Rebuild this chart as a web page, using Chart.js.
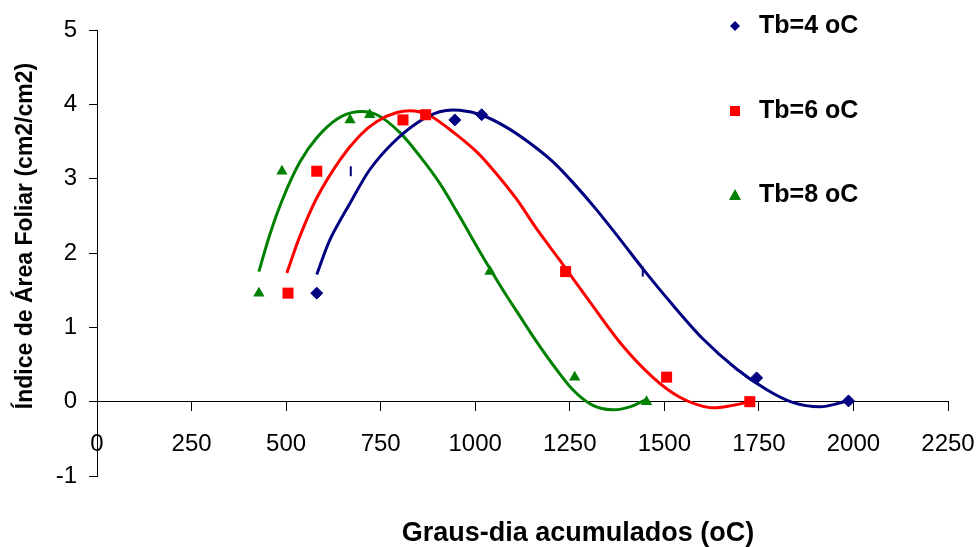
<!DOCTYPE html>
<html>
<head>
<meta charset="utf-8">
<script src="https://cdn.jsdelivr.net/npm/chart.js@4/dist/chart.umd.min.js"></script>
<style>
  html, body { margin: 0; padding: 0; background: #fff; }
  #wrap { width: 980px; height: 547px; position: relative; }
</style>
</head>
<body>
<div id="wrap"><canvas id="c" width="980" height="547"></canvas></div>
<script>
// ---- Data ----
const seriesLabels = ['Tb=4 oC', 'Tb=6 oC', 'Tb=8 oC'];

// observed points
const tb4X = [581, 671, 946, 1017, 1443, 1744, 1987];
const tb4Y = [1.46, 3.10, 3.79, 3.86, 1.75, 0.32, 0.01];
const tb6X = [505, 581, 809, 869, 1239, 1506, 1726];
const tb6Y = [1.46, 3.10, 3.79, 3.86, 1.75, 0.33, 0.00];
const tb8X = [428, 489, 669, 721, 1039, 1263, 1453];
const tb8Y = [1.46, 3.10, 3.79, 3.86, 1.75, 0.33, 0.00];

// fitted curves
const fit4X = [581, 616, 669, 721, 782, 846, 906, 959, 1020, 1083, 1144, 1205, 1258, 1321, 1382, 1443, 1514, 1601, 1691, 1771, 1839, 1911, 1963, 1990];
const fit4Y = [1.71, 2.18, 2.67, 3.12, 3.48, 3.75, 3.90, 3.92, 3.85, 3.69, 3.48, 3.23, 2.95, 2.58, 2.19, 1.79, 1.35, 0.85, 0.44, 0.16, -0.01, -0.07, -0.02, 0.03];
const fit6X = [502, 536, 581, 642, 695, 740, 793, 840, 880, 941, 1004, 1057, 1110, 1163, 1224, 1295, 1382, 1469, 1541, 1620, 1681, 1726];
const fit6Y = [1.73, 2.22, 2.74, 3.25, 3.58, 3.77, 3.89, 3.91, 3.85, 3.63, 3.36, 3.06, 2.72, 2.32, 1.90, 1.40, 0.80, 0.33, 0.06, -0.08, -0.05, 0.00];
const fit8X = [428, 457, 492, 536, 581, 634, 687, 740, 801, 854, 906, 959, 1020, 1070, 1118, 1163, 1205, 1258, 1311, 1364, 1409, 1453];
const fit8Y = [1.75, 2.25, 2.74, 3.22, 3.55, 3.80, 3.90, 3.86, 3.62, 3.30, 2.94, 2.49, 1.95, 1.53, 1.15, 0.80, 0.50, 0.16, -0.05, -0.11, -0.07, 0.03];

// axis ticks
const xTicks = [0, 250, 500, 750, 1000, 1250, 1500, 1750, 2000, 2250];
const yTicks = [-1, 0, 1, 2, 3, 4, 5];

const xTitle = 'Graus-dia acumulados (oC)';
const yTitle = 'Índice de Área Foliar (cm2/cm2)';

// ---- styles ----
const colors = ['#000080', '#FF0000', '#008000'];
const FONT = '"Liberation Sans", Arial, Helvetica, sans-serif';

const pts = (xs, ys) => xs.map((x, i) => ({x: x, y: ys[i]}));

const curveDs = (xs, ys, c) => ({
  type: 'line', data: pts(xs, ys), borderColor: c, borderWidth: 3,
  pointRadius: 0, tension: 0.3, fill: false, order: 2
});

const datasets = [
  curveDs(fit4X, fit4Y, colors[0]),
  curveDs(fit6X, fit6Y, colors[1]),
  curveDs(fit8X, fit8Y, colors[2]),
  {
    type: 'scatter', label: seriesLabels[0], data: pts(tb4X, tb4Y),
    pointStyle: ['rectRot', 'line', 'rectRot', 'rectRot', 'line', 'rectRot', 'rectRot'],
    rotation: [0, 90, 0, 0, 90, 0, 0],
    pointRadius: [6, 5, 6, 6, 5, 6, 6],
    pointBorderWidth: [1, 2, 1, 1, 2, 1, 1],
    backgroundColor: colors[0], borderColor: colors[0], order: 1
  },
  {
    type: 'scatter', label: seriesLabels[1], data: pts(tb6X, tb6Y),
    pointStyle: 'rect', pointRadius: 7.8, pointBorderWidth: 0,
    backgroundColor: colors[1], borderColor: colors[1], order: 1
  },
  {
    type: 'scatter', label: seriesLabels[2], data: pts(tb8X, tb8Y),
    pointStyle: 'triangle', pointRadius: 6.5, pointBorderWidth: 0,
    backgroundColor: colors[2], borderColor: colors[2], order: 1
  }
];

const legendMarkers = ['diamond', 'square', 'triangle'];

const annotPlugin = {
  id: 'annot',
  afterDraw(chart) {
    const ctx = chart.ctx;
    ctx.save();
    ctx.fillStyle = '#000';
    // x title
    ctx.font = 'bold 27px ' + FONT;
    ctx.textAlign = 'center';
    ctx.textBaseline = 'middle';
    ctx.fillText(xTitle, 578, 534);
    // y title
    ctx.save();
    ctx.translate(26, 236);
    ctx.rotate(-Math.PI / 2);
    ctx.font = 'bold 23px ' + FONT;
    ctx.fillText(yTitle, 0, 0);
    ctx.restore();
    // legend
    const ys = [26, 111, 195];
    seriesLabels.forEach((lab, i) => {
      const mx = 735, my = ys[i];
      ctx.fillStyle = colors[i];
      ctx.beginPath();
      if (legendMarkers[i] === 'diamond') {
        ctx.moveTo(mx - 5, my); ctx.lineTo(mx, my - 5); ctx.lineTo(mx + 5, my); ctx.lineTo(mx, my + 5);
      } else if (legendMarkers[i] === 'square') {
        ctx.rect(mx - 5, my - 5, 10, 10);
      } else {
        ctx.moveTo(mx, my - 6); ctx.lineTo(mx + 6, my + 5); ctx.lineTo(mx - 6, my + 5);
      }
      ctx.closePath();
      ctx.fill();
      ctx.fillStyle = '#000';
      ctx.font = 'bold 25px ' + FONT;
      ctx.textAlign = 'left';
      ctx.textBaseline = 'middle';
      ctx.fillText(lab, 759, my);
    });
    ctx.restore();
  }
};

new Chart(document.getElementById('c'), {
  data: { datasets: datasets },
  options: {
    responsive: false,
    animation: false,
    devicePixelRatio: 1,
    layout: { padding: { left: 0, right: 32, top: 30, bottom: 71 } },
    plugins: { legend: { display: false }, tooltip: { enabled: false }, title: { display: false } },
    scales: {
      x: {
        type: 'linear',
        position: { y: 0 },
        min: xTicks[0], max: xTicks[xTicks.length - 1],
        afterBuildTicks: (s) => { s.ticks = xTicks.map(v => ({value: v})); },
        afterFit: (s) => { s.paddingLeft = 0; s.paddingRight = 0; },
        ticks: { color: '#000', font: { family: FONT, size: 24 }, padding: 19, maxRotation: 0, autoSkip: false,
                 callback: (v) => String(v) },
        grid: { drawOnChartArea: false, drawTicks: true, tickLength: 9, color: '#000', tickWidth: 1 },
        border: { display: true, color: '#000', width: 1 }
      },
      y: {
        type: 'linear',
        position: 'left',
        min: yTicks[0], max: yTicks[yTicks.length - 1],
        afterBuildTicks: (s) => { s.ticks = yTicks.map(v => ({value: v})); },
        afterFit: (s) => { s.width = 97; },
        ticks: { color: '#000', font: { family: FONT, size: 24 }, padding: 12, autoSkip: false,
                 callback: (v) => String(v) },
        grid: { drawOnChartArea: false, drawTicks: true, tickLength: 8, color: '#000', tickWidth: 1 },
        border: { display: true, color: '#000', width: 1 }
      }
    }
  },
  plugins: [annotPlugin]
});
</script>
</body>
</html>
